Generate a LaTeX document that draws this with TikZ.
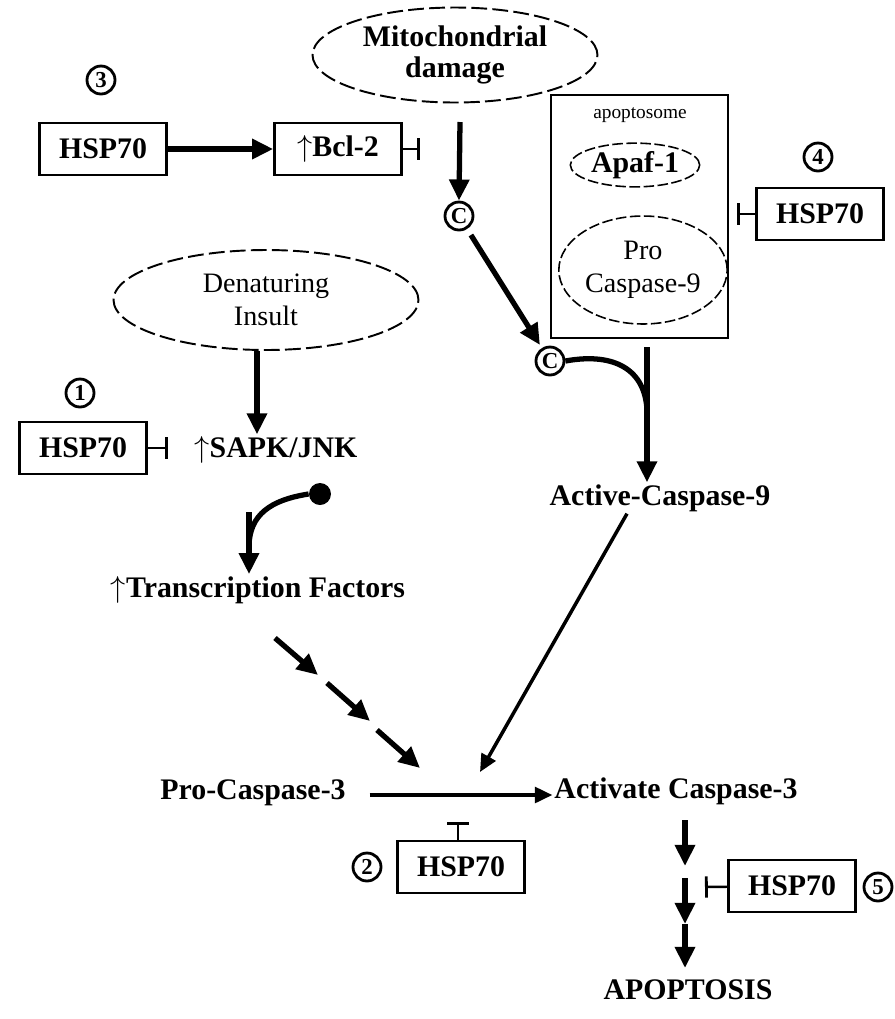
\documentclass[tikz,border=0pt]{standalone}
\usepackage{fontspec}
\setmainfont{Liberation Serif}
\usetikzlibrary{arrows.meta,shapes.geometric}
\newcommand\uparr{$\uparrow$}
\begin{document}
\begin{tikzpicture}[x=0.02cm,y=-0.02cm,
  lbl/.style={font=\bfseries\fontsize{17}{18}\selectfont, inner sep=1pt, align=center},
  thin lbl/.style={font=\fontsize{16}{19}\selectfont, inner sep=1pt, align=center},
  hsp/.style={draw, line width=1.5pt, minimum width=2.54cm, minimum height=1.04cm, lbl},
  num/.style={draw, circle, line width=1.6pt, minimum size=0.56cm, inner sep=0pt,
              font=\bfseries\fontsize{13}{13}\selectfont},
  fat/.style={line width=3pt, -{Triangle[length=12pt,width=11pt]}},
  thinarr/.style={line width=2pt, -{Triangle[length=10pt,width=9pt]}},
  inh/.style={line width=1.4pt, -{Bar[width=12pt,line width=1.6pt]}},
  cloud/.style={draw, ellipse, dashed, line width=1.1pt, dash pattern=on 9pt off 3pt}]
\useasboundingbox (0,0) rectangle (895,1019);

% ---- mitochondrial branch ----
\node[cloud, minimum width=5.7cm, minimum height=1.9cm, lbl] (mito) at (455,55) {Mitochondrial\\damage};
\node[num] (n3) at (101,80) {3};
\node[hsp] (h3) at (103,149) {HSP70};
\node[hsp] (bcl) at (338,149) {\uparr Bcl-2};
\coordinate (bclT) at (420,149);
\draw[fat] (h3) -- (bcl);
\draw[inh] (bcl) -- (bclT);

\node[num] (c1) at (459,216) {C};
\coordinate (mitoS) at (460,122);
\draw[fat] (mitoS) -- (c1.north);
\node[num] (c2) at (550,361) {C};
\draw[fat, shorten <=4pt, shorten >=2pt] (c1) -- (c2);

% ---- apoptosome ----
\node[draw, line width=0.9pt, minimum width=3.54cm, minimum height=4.86cm] (apo) at (639.5,216.5) {};
\node[thin lbl, font=\fontsize{11}{12}\selectfont] (apolbl) at (640,115) {apoptosome};
\node[cloud, dash pattern=on 6pt off 2pt, line width=0.9pt, minimum width=2.46cm, minimum height=0.86cm, lbl] (apaf) at (635,165) {Apaf-1};
\node[cloud, dash pattern=on 6pt off 2pt, line width=0.9pt, minimum width=3.24cm, minimum height=2.16cm, thin lbl] (pc9) at (643,270) {Pro\\Caspase-9};
\node[num] (n4) at (818,157) {4};
\node[hsp] (h4) at (820,214) {HSP70};
\coordinate (apoT) at (737,214);
\draw[inh] (h4) -- (apoT);

% apoptosome assembly to active caspase-9
\coordinate (j9) at (647,347);
\node[lbl] (ac9) at (660,498) {Active-Caspase-9};
\draw[line width=3pt] (c2.east) .. controls (615,352) and (645,370) .. (647,410);
\draw[fat] (j9) -- (ac9.north -| j9);

% ---- stress branch ----
\node[cloud, minimum width=6.1cm, minimum height=2cm, thin lbl] (den) at (266,300) {Denaturing\\Insult};
\node[lbl] (sapk) at (276,450) {\uparr SAPK/JNK};
\draw[fat] (den.south -| 257,0) -- (sapk.north -| 257,0);
\node[num] (n1) at (80,393) {1};
\node[hsp] (h1) at (83,448) {HSP70};
\coordinate (sapkT) at (168,448);
\draw[inh] (h1) -- (sapkT);

\node[circle, fill=black, minimum size=0.44cm, inner sep=0pt] (dot) at (320,494) {};
\node[lbl] (tf) at (258,590) {\uparr Transcription Factors};
\draw[line width=3pt] (dot.west) .. controls (270,500) and (250,515) .. (249,545);
\draw[fat] (249,512) -- (tf.north -| 249,0);

% segmented arrow from transcription factors
\coordinate (s1a) at (275,638); \coordinate (s1b) at (318,675);
\coordinate (s2a) at (327,683); \coordinate (s2b) at (370,721);
\coordinate (s3a) at (377,730); \coordinate (s3b) at (420,768);
\draw[fat] (s1a) -- (s1b);
\draw[fat] (s2a) -- (s2b);
\draw[fat] (s3a) -- (s3b);

% ---- caspase-3 ----
\node[lbl] (pc3) at (253,793) {Pro-Caspase-3};
\node[lbl] (ac3) at (676,791) {Activate Caspase-3};
\coordinate (j3) at (480,772);
\draw[thinarr] (ac9.south -| 627,0) -- (j3);
\draw[thinarr] (pc3.east) ++(22,2) -- (ac3.west |- 0,795);
\node[hsp] (h2) at (461,867) {HSP70};
\node[num] (n2) at (367,867) {2};
\draw[line width=1.4pt, -{Bar[width=12pt,line width=1.6pt]}] (h2.north -| 458,0) -- (458,822);

% ---- execution ----
\coordinate (e1) at (685,820); \coordinate (e2) at (685,866);
\coordinate (e3) at (685,878); \coordinate (e4) at (685,924);
\coordinate (e5) at (685,968);
\node[lbl] (apop) at (688,990) {APOPTOSIS};
\draw[fat] (e1) -- (e2);
\draw[fat] (e3) -- (e4);
\draw[fat] (e4) -- (e5);
\node[hsp] (h5) at (792,886) {HSP70};
\node[num] (n5) at (878,887) {5};
\coordinate (exT) at (705,887);
\draw[inh] (h5) -- (exT);
\end{tikzpicture}
\end{document}
